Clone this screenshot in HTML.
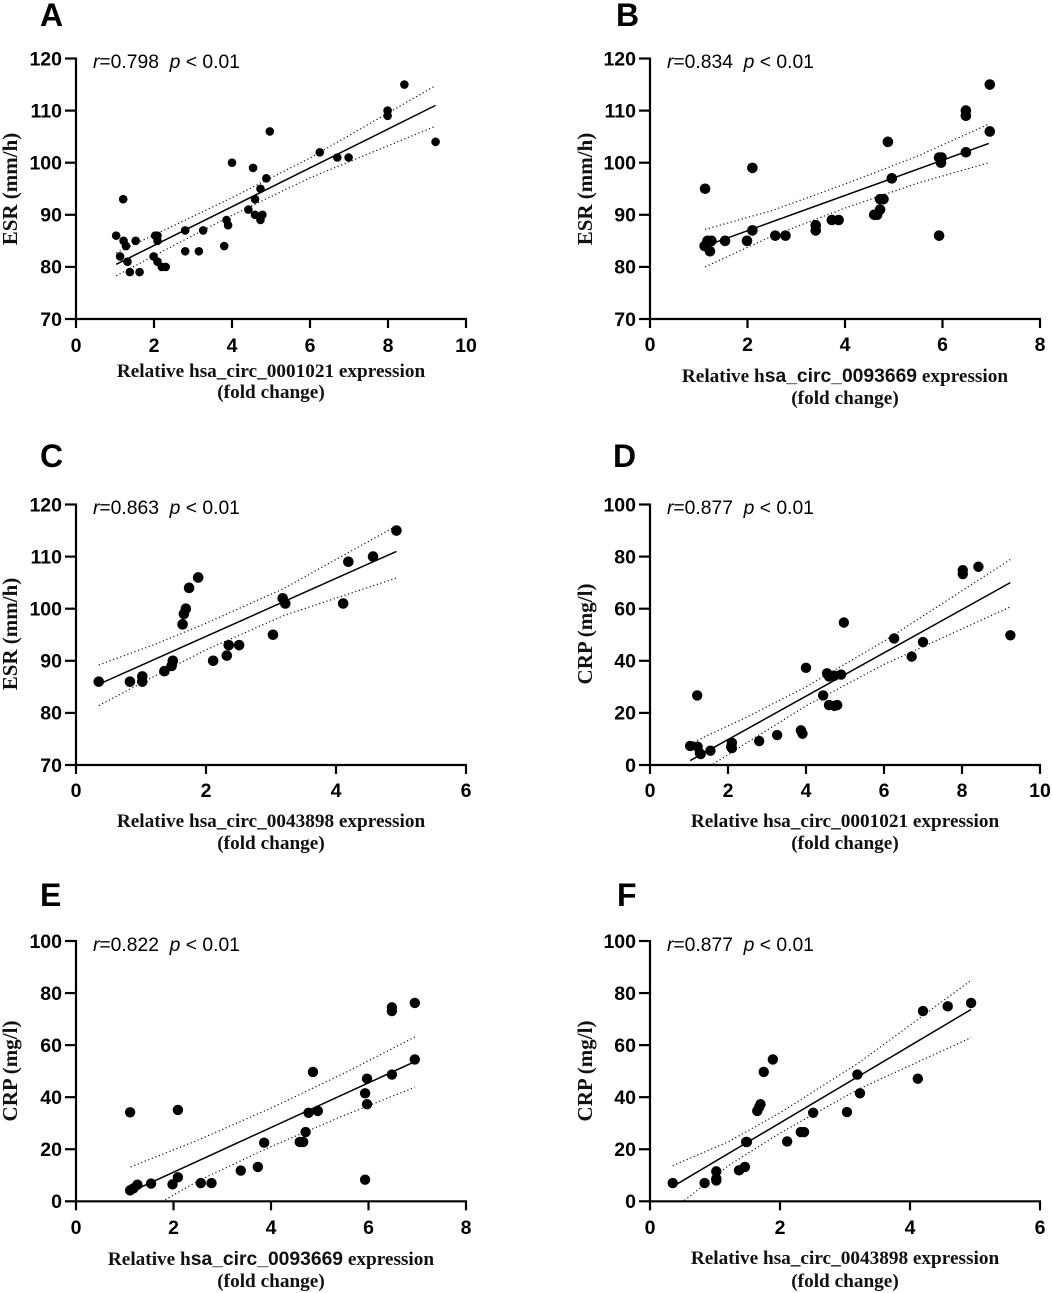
<!DOCTYPE html>
<html lang="en">
<head>
<meta charset="utf-8">
<title>Correlation scatter plots</title>
<style>
html,body{margin:0;padding:0;background:#fff;}
svg{display:block;}
.letter{font:bold 32px "Liberation Sans",sans-serif;fill:#000;}
.stat{font:19.3px "Liberation Sans",sans-serif;fill:#000;white-space:pre;}
.xt{font:bold 19.25px "Liberation Serif",serif;fill:#111;text-anchor:middle;}
.yt{font:bold 21px "Liberation Serif",serif;fill:#111;text-anchor:middle;}
.tick{font:bold 19.5px "Liberation Sans",sans-serif;fill:#000;}
.sf{font-family:"Liberation Sans",sans-serif;font-size:19.3px;}
</style>
</head>
<body>
<svg id="figure" xmlns="http://www.w3.org/2000/svg" width="1052" height="1293" viewBox="0 0 1052 1293">
<rect width="1052" height="1293" fill="#fff"/>

<g id="panel-a">
<text class="letter" x="40" y="26">A</text>
<text class="stat" x="93" y="68"><tspan font-style="italic">r</tspan>=0.798  <tspan font-style="italic">p</tspan> &lt; 0.01</text>
<text class="xt" x="271" y="377">Relative hsa_circ_0001021 expression</text>
<text class="xt" x="271" y="398">(fold change)</text>
<text class="yt" transform="translate(17,189) rotate(-90)">ESR (mm/h)</text>
</g>

<g id="panel-b">
<text class="letter" x="616" y="26">B</text>
<text class="stat" x="667" y="68"><tspan font-style="italic">r</tspan>=0.834  <tspan font-style="italic">p</tspan> &lt; 0.01</text>
<text class="xt" x="845" y="382">Relative h<tspan class="sf">sa_circ_0093669</tspan> expression</text>
<text class="xt" x="845" y="404">(fold change)</text>
<text class="yt" transform="translate(592,189) rotate(-90)">ESR (mm/h)</text>
</g>

<g id="panel-c">
<text class="letter" x="40" y="467">C</text>
<text class="stat" x="93" y="514"><tspan font-style="italic">r</tspan>=0.863  <tspan font-style="italic">p</tspan> &lt; 0.01</text>
<text class="xt" x="271" y="827">Relative hsa_circ_0043898 expression</text>
<text class="xt" x="271" y="849">(fold change)</text>
<text class="yt" transform="translate(17,634) rotate(-90)">ESR (mm/h)</text>
</g>

<g id="panel-d">
<text class="letter" x="613" y="467">D</text>
<text class="stat" x="667" y="514"><tspan font-style="italic">r</tspan>=0.877  <tspan font-style="italic">p</tspan> &lt; 0.01</text>
<text class="xt" x="845" y="827">Relative hsa_circ_0001021 expression</text>
<text class="xt" x="845" y="849">(fold change)</text>
<text class="yt" transform="translate(592,634) rotate(-90)">CRP (mg/l)</text>
</g>

<g id="panel-e">
<text class="letter" x="40" y="906">E</text>
<text class="stat" x="93" y="951"><tspan font-style="italic">r</tspan>=0.822  <tspan font-style="italic">p</tspan> &lt; 0.01</text>
<text class="xt" x="271" y="1265">Relative h<tspan class="sf">sa_circ_0093669</tspan> expression</text>
<text class="xt" x="271" y="1287">(fold change)</text>
<text class="yt" transform="translate(17,1071) rotate(-90)">CRP (mg/l)</text>
</g>

<g id="panel-f">
<text class="letter" x="617" y="906">F</text>
<text class="stat" x="667" y="951"><tspan font-style="italic">r</tspan>=0.877  <tspan font-style="italic">p</tspan> &lt; 0.01</text>
<text class="xt" x="845" y="1264">Relative hsa_circ_0043898 expression</text>
<text class="xt" x="845" y="1287">(fold change)</text>
<text class="yt" transform="translate(592,1071) rotate(-90)">CRP (mg/l)</text>
</g>
</svg>

<script>
// Shared tick labels
const esrTicks = [70, 80, 90, 100, 110, 120];
const crpTicks = [0, 20, 40, 60, 80, 100];
const xTicks10 = [0, 2, 4, 6, 8, 10];
const xTicks8 = [0, 2, 4, 6, 8];
const xTicks6 = [0, 2, 4, 6];

// Panel A: hsa_circ_0001021 vs ESR
const aX = [1.03,1.22,1.28,1.13,1.32,1.21,1.53,1.38,1.63,1.99,2.09,2.03,2.09,2.09,2.2,2.3,2.8,2.8,3.15,3.26,3.8,3.86,3.9,4.0,4.42,4.54,4.59,4.59,4.73,4.73,4.78,4.88,4.97,6.25,6.7,6.99,7.99,7.99,8.42,9.22];
const aY = [86,85,84,82,81,93,85,79,79,82,81,86,86,85,80,80,87,83,83,87,84,89,88,100,91,99,93,90,95,89,90,97,106,102,101,101,110,109,115,104];
const aFitX = [1.03, 9.22];
const aFitY = [80.5, 111];
const aUpperX = [1.03, 2.5, 4, 6, 9.22];
const aUpperY = [82.7, 87.9, 93.3, 100.9, 114.8];
const aLowerX = [1.03, 2.5, 4, 6, 9.22];
const aLowerY = [78.3, 84.1, 89.9, 97.1, 107];

// Panel B: hsa_circ_0093669 vs ESR
const bX = [1.12,1.13,1.18,1.23,1.26,1.54,1.99,2.1,2.1,2.57,2.78,3.4,3.4,3.73,3.87,4.6,4.66,4.72,4.72,4.79,4.88,4.96,5.93,5.98,5.97,5.93,6.48,6.48,6.48,6.97,6.97];
const bY = [84,95,85,83,85,85,85,87,99,86,86,88,87,89,89,90,90,91,93,93,104,97,101,101,100,86,110,109,102,115,106];
const bFitX = [1.13, 6.95];
const bFitY = [84, 103.7];
const bUpperX = [1.13, 2.5, 4, 5.5, 6.95];
const bUpperY = [87.2, 90.8, 95.9, 101.3, 107.4];
const bLowerX = [1.13, 2.5, 4, 5.5, 6.95];
const bLowerY = [80, 85.9, 91.3, 96.1, 100];

// Panel C: hsa_circ_0043898 vs ESR
const cX = [0.35,0.83,1.02,1.02,1.36,1.47,1.49,1.64,1.66,1.69,1.74,1.88,2.11,2.32,2.35,2.51,3.03,3.18,3.22,4.11,4.19,4.57,4.93];
const cY = [86,86,86,87,88,89,90,97,99,100,104,106,90,91,93,93,95,102,101,101,109,110,115];
const cFitX = [0.35, 4.93];
const cFitY = [85.5, 111];
const cUpperX = [0.35, 1.2, 2, 3.2, 4.93];
const cUpperY = [89.2, 93.1, 97.2, 103.9, 115.9];
const cLowerX = [0.35, 1.2, 2, 3.2, 4.93];
const cLowerY = [81.4, 87, 92.1, 98.7, 105.9];

// Panel D: hsa_circ_0001021 vs CRP
const dX = [1.03,1.22,1.21,1.28,1.3,1.55,2.08,2.1,2.1,2.8,3.26,3.87,3.91,4.0,4.44,4.54,4.59,4.59,4.73,4.73,4.8,4.9,4.97,6.26,6.71,7,8.02,8.02,8.42,9.24];
const dY = [7.3,7,26.7,4.5,4.2,5.5,7,8.5,6.5,9.2,11.5,13.3,12,37.3,26.7,35.2,34,23,34.3,22.7,23,34.7,54.7,48.6,41.6,47.2,74.8,73.3,76.1,49.8];
const dFitX = [1.03, 9.24];
const dFitY = [1.7, 70];
const dUpperX = [1.03, 2.5, 4, 6, 9.24];
const dUpperY = [8.2, 18.5, 30, 47.5, 78.9];
const dLowerX = [1.62, 2.5, 4, 6, 9.24];
const dLowerY = [0.4, 8.7, 22.7, 38.6, 60.7];

// Panel E: hsa_circ_0093669 vs CRP
const eX = [1.11,2.09,1.11,1.18,1.26,1.54,1.98,2.09,2.56,2.78,3.38,3.73,3.86,4.59,4.66,4.71,4.77,4.86,4.96,5.93,5.93,5.97,5.97,6.48,6.48,6.48,6.95,6.95];
const eY = [34.2,35.1,4.2,5,6.4,6.8,6.5,9.2,7,7,11.8,13.2,22.5,22.8,22.8,26.6,34,49.7,34.7,41.5,8.3,47.1,37.3,48.7,74.5,73.1,76.2,54.5];
const eFitX = [1.14, 6.92];
const eFitY = [3.8, 53.4];
const eUpperX = [1.12, 2.5, 4, 5.5, 6.95];
const eUpperY = [13.2, 23.5, 35.8, 49.2, 63.1];
const eLowerX = [1.83, 2.5, 4, 5.5, 6.95];
const eLowerY = [0.6, 7.8, 21, 33, 43.8];

// Panel F: hsa_circ_0043898 vs CRP
const fX = [0.35,0.84,1.02,1.02,1.02,1.37,1.46,1.48,1.49,1.65,1.68,1.7,1.75,1.89,2.11,2.32,2.37,2.51,3.03,3.19,3.23,4.12,4.2,4.58,4.94];
const fY = [7,7,11.5,8.7,8,11.9,13.2,22.8,22.8,34.7,36.2,37.3,49.7,54.5,23,26.6,26.6,34,34.3,48.7,41.5,47.1,73.1,74.9,76.2];
const fFitX = [0.36, 4.94];
const fFitY = [5.8, 73.7];
const fUpperX = [0.35, 1.2, 2, 3.2, 4.94];
const fUpperY = [13.7, 22.8, 34, 53, 84.9];
const fLowerX = [0.53, 1.2, 2, 3.2, 4.94];
const fLowerY = [0.3, 13.6, 26.2, 43, 62.9];

const SVG_NS = 'http://www.w3.org/2000/svg';

function mk(parent, tag, attrs) {
  const el = document.createElementNS(SVG_NS, tag);
  for (const k in attrs) el.setAttribute(k, attrs[k]);
  parent.appendChild(el);
  return el;
}

function drawPanel(id, box, xTicks, yTicks, xs, ys, fitX, fitY, upX, upY, loX, loY) {
  const parent = document.getElementById('panel-' + id);
  const xMin = xTicks[0], xMax = xTicks[xTicks.length - 1];
  const yMin = yTicks[0], yMax = yTicks[yTicks.length - 1];
  const sx = v => box.left + (v - xMin) / (xMax - xMin) * (box.right - box.left);
  const sy = v => box.bottom - (v - yMin) / (yMax - yMin) * (box.bottom - box.top);
  const pathOf = (px, py) => px.map((v, i) => (i ? 'L' : 'M') + sx(v).toFixed(2) + ' ' + sy(py[i]).toFixed(2)).join(' ');

  const upper = mk(parent, 'path', {d: pathOf(upX, upY), fill: 'none', stroke: '#111', 'stroke-width': 1.2, 'stroke-dasharray': '1.2 2.6'});
  
  

  const lower = mk(parent, 'path', {d: pathOf(loX, loY), fill: 'none', stroke: '#111', 'stroke-width': 1.2, 'stroke-dasharray': '1.2 2.6'});
  
  

  const fit = mk(parent, 'path', {d: pathOf(fitX, fitY), fill: 'none', stroke: '#000', 'stroke-width': 1.5});
  
  

  xs.forEach((v, i) => {
    const dot = mk(parent, 'circle', {cx: sx(v).toFixed(2), cy: sy(ys[i]).toFixed(2), r: box.dot, fill: '#000'});
    
    
  });

  const yAxis = mk(parent, 'line', {x1: box.left, x2: box.left, y1: box.top - 1, y2: box.bottom + 1, stroke: '#000', 'stroke-width': 2.2});
  
  

  const xAxis = mk(parent, 'line', {x1: box.left - 1, x2: box.right + 1, y1: box.bottom, y2: box.bottom, stroke: '#000', 'stroke-width': 2.2});
  
  

  yTicks.forEach(v => {
    const tk = mk(parent, 'line', {x1: box.left - 11, x2: box.left, y1: sy(v), y2: sy(v), stroke: '#000', 'stroke-width': 2.2});
    
    
    const lb = mk(parent, 'text', {class: 'tick', x: box.left - 14, y: sy(v) + 6.8, 'text-anchor': 'end'});
    
    
    lb.textContent = v;
  });

  xTicks.forEach(v => {
    const tk = mk(parent, 'line', {x1: sx(v), x2: sx(v), y1: box.bottom, y2: box.bottom + 9, stroke: '#000', 'stroke-width': 2.2});
    
    
    const lb = mk(parent, 'text', {class: 'tick', x: sx(v), y: box.labelY, 'text-anchor': 'middle'});
    
    
    lb.textContent = v;
  });
}

drawPanel('a', {left: 76, right: 466, top: 58.5, bottom: 319, labelY: 352, dot: 4.3}, xTicks10, esrTicks, aX, aY, aFitX, aFitY, aUpperX, aUpperY, aLowerX, aLowerY);
drawPanel('b', {left: 650, right: 1040, top: 58.5, bottom: 319, labelY: 351, dot: 5.3}, xTicks8, esrTicks, bX, bY, bFitX, bFitY, bUpperX, bUpperY, bLowerX, bLowerY);
drawPanel('c', {left: 76, right: 466, top: 504.5, bottom: 765, labelY: 797, dot: 5.3}, xTicks6, esrTicks, cX, cY, cFitX, cFitY, cUpperX, cUpperY, cLowerX, cLowerY);
drawPanel('d', {left: 650, right: 1040, top: 504.5, bottom: 765, labelY: 797, dot: 5.2}, xTicks10, crpTicks, dX, dY, dFitX, dFitY, dUpperX, dUpperY, dLowerX, dLowerY);
drawPanel('e', {left: 76, right: 466, top: 941, bottom: 1201.3, labelY: 1234, dot: 5.2}, xTicks8, crpTicks, eX, eY, eFitX, eFitY, eUpperX, eUpperY, eLowerX, eLowerY);
drawPanel('f', {left: 650, right: 1040, top: 941, bottom: 1201.3, labelY: 1234, dot: 5.2}, xTicks6, crpTicks, fX, fY, fFitX, fFitY, fUpperX, fUpperY, fLowerX, fLowerY);
</script>
</body>
</html>
